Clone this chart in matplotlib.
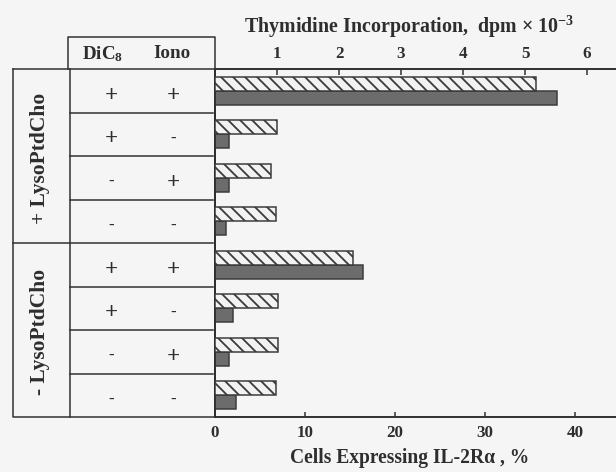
import matplotlib
matplotlib.use('Agg')
import matplotlib.pyplot as plt

# values, rows top to bottom
dic8   = ['+', '+', '-', '-', '+', '+', '-', '-']
iono   = ['+', '-', '+', '-', '+', '-', '+', '-']
groups = ['+ LysoPtdCho', '- LysoPtdCho']
thymidine = [5.18, 1.00, 0.91, 0.99, 2.22, 1.01, 1.01, 0.98]   # dpm x 10^-3 (hatched)
il2r      = [38.0, 1.56, 1.56, 1.22, 16.4, 1.97, 1.56, 2.33]   # % cells (dark)
top_ticks = [1, 2, 3, 4, 5, 6]
bot_ticks = [0, 10, 20, 30, 40]

plt.rcParams['font.family'] = ['Liberation Serif', 'DejaVu Serif']
plt.rcParams['font.weight'] = 'bold'
plt.rcParams['mathtext.fontset'] = 'custom'
plt.rcParams['mathtext.rm'] = 'Liberation Serif:bold'
plt.rcParams['mathtext.bf'] = 'Liberation Serif:bold'
plt.rcParams['mathtext.it'] = 'Liberation Serif:bold'
plt.rcParams['hatch.linewidth'] = 1.8

W, H = 616, 472
ink = '#2e2e2e'
bg = '#f5f5f5'
fw = 'bold'

fig = plt.figure(figsize=(W / 72, H / 72), dpi=72, facecolor=bg)

# pixel layout
x0, y_top, y_bot = 215, 69, 417
ax = fig.add_axes([x0 / W, 1 - y_bot / H, 1 - x0 / W, (y_bot - y_top) / H])
ax.set_facecolor('none')

n = len(il2r)
rows = list(range(n))
ax.set_ylim(n - 0.5, -0.5)
ax.set_xlim(0, (W - x0) / 9.0)          # 90 px per 10 %
ax2 = ax.twiny()
ax2.set_xlim(0, (W - x0) / 62.0)        # 62 px per 1 dpm x10^-3

bh = 0.32
ax2.barh([r - bh / 2 for r in rows], thymidine, height=bh, color='#f2f2f2',
         edgecolor='#3a3a3a', hatch='\\\\', linewidth=1.5, zorder=3)
ax.barh([r + bh / 2 for r in rows], il2r, height=bh, color='#6c6c6c',
        edgecolor='#3a3a3a', linewidth=1.5, zorder=3)

for a in (ax, ax2):
    a.spines['right'].set_visible(False)
    for s in ('top', 'bottom', 'left'):
        a.spines[s].set_color(ink)
        a.spines[s].set_linewidth(1.6)
ax.set_yticks([])
ax2.set_yticks([])
ax.set_xticks(bot_ticks)
ax.set_xticklabels([str(t) for t in bot_ticks], fontweight=fw)
ax2.set_xticks(top_ticks)
ax2.set_xticklabels([str(t) for t in top_ticks], fontweight=fw)
ax.tick_params(axis='x', direction='in', length=5, width=1.5, color=ink,
               labelsize=17, labelcolor=ink, pad=8)
ax2.tick_params(axis='x', direction='in', length=6, width=1.5, color=ink,
                labelsize=17, labelcolor=ink, pad=7)

ax.set_xlabel('Cells Expressing IL-2R\u03b1 , %', fontsize=19.5, color=ink,
              fontweight=fw, labelpad=7, x=(410 - x0) / (W - x0))
fig.text(409 / W, 1 - 33 / H, 'Thymidine Incorporation,  dpm \u00d7 10$^{-3}$',
         ha='center', va='baseline', fontsize=20, color=ink, fontweight=fw)

# table on the left, in pixel coordinates
tb = fig.add_axes([0, 0, 1, 1], zorder=-1)
tb.set_xlim(0, W)
tb.set_ylim(H, 0)
tb.axis('off')
rh = (y_bot - y_top) / n
lw = 1.5
xl, xc = 13, 70
tb.plot([xl, x0, x0], [y_top, y_top, y_bot], color=ink, lw=lw)
tb.plot([xl, xl, x0], [y_top, y_bot, y_bot], color=ink, lw=lw)
tb.plot([xc, xc], [y_top, y_bot], color=ink, lw=lw)
tb.plot([68, 68, x0, x0], [y_top, 37, 37, y_top], color=ink, lw=lw)
for k in range(1, n):
    y = y_top + k * rh
    tb.plot([xl if k == 4 else xc, x0 - 2], [y, y], color=ink, lw=lw)

tb.text(103, 54, 'DiC$_8$', ha='center', va='center', fontsize=19,
        color=ink, fontweight=fw)
tb.text(172, 54, 'Iono', ha='center', va='center', fontsize=19,
        color=ink, fontweight=fw)
for k in range(n):
    y = y_top + (k + 0.6) * rh
    for xc_, sign in ((111, dic8[k]), (173, iono[k])):
        tb.text(xc_, y, sign, ha='center', va='center',
                fontsize=23 if sign == '+' else 17, color=ink, fontweight=fw)
for g, name in enumerate(groups):
    y = y_top + (g * 4 + 2) * rh + 2
    tb.text(40, y, name, ha='center', va='center', rotation=90,
            fontsize=21.5, color=ink, fontweight=fw)

fig.savefig('out.png', dpi=72, facecolor=bg)
